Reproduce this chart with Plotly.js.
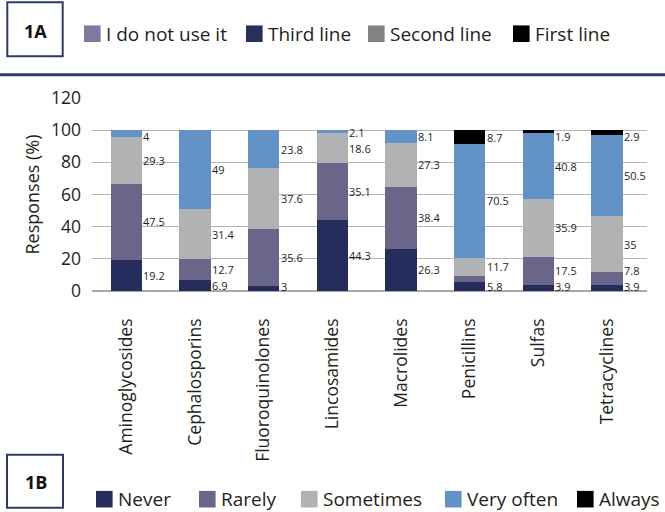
<!DOCTYPE html>
<html><head><meta charset="utf-8">
<script src="https://cdn.plot.ly/plotly-3.0.1.min.js"></script>
<style>html,body{margin:0;padding:0;background:#fff}#chart{width:665px;height:512px}</style>
</head><body><div id="chart"></div>
<script>
// ---- data ----
const categories = ['Aminoglycosides','Cephalosporins','Fluoroquinolones','Lincosamides','Macrolides','Penicillins','Sulfas','Tetracyclines'];
const seriesNames = ['Never','Rarely','Sometimes','Very often','Always'];
const never     = [19.2, 6.9, 3, 44.3, 26.3, 5.8, 3.9, 3.9];
const rarely    = [47.5, 12.7, 35.6, 35.1, 38.4, 3.3, 17.5, 7.8];
const sometimes = [29.3, 31.4, 37.6, 18.6, 27.3, 11.7, 35.9, 35];
const veryOften = [4, 49, 23.8, 2.1, 8.1, 70.5, 40.8, 50.5];
const always    = [0, 0, 0, 0, 0, 8.7, 1.9, 2.9];
const unlabeledPoints = [{series: 'Rarely', category: 'Penicillins'}];
const topLegendNames = ['I do not use it','Third line','Second line','First line'];
const yTickValues = [0, 20, 40, 60, 80, 100, 120];

// ---- style ----
const seriesColors = ['#252d5c','#6a6689','#b1b2b4','#6392c6','#000000'];
const topLegendColors = ['#7f7a9c','#262f5e','#818285','#000000'];
const FONT = '"Open Sans", "Noto Sans", sans-serif';
const TXT = '#231f20';
const NAVY = '#2e3a6b';

const allSeries = [never, rarely, sometimes, veryOften, always];

// plot area in pixels
const L = 92, R = 647, T = 97.7, B = 291, W = 665, H = 512;
const fx = px => (px - L) / (R - L);
const fy = py => (B - py) / (B - T);

const traces = allSeries.map((vals, k) => ({
  type: 'bar', name: seriesNames[k], x: categories, y: vals,
  marker: {color: seriesColors[k], line: {width: 0}},
  showlegend: false, hoverinfo: 'skip'
}));

// data labels placed right of each bar, at segment midpoints with collision avoidance
const annotations = [];
const GAP = 9.6, YMIN = 3.0, YMAX = 96;
categories.forEach((cat, i) => {
  let cum = 0;
  const labs = [];
  allSeries.forEach((vals, k) => {
    const v = vals[i];
    const mid = cum + v / 2;
    cum += v;
    const hidden = unlabeledPoints.some(p => p.series === seriesNames[k] && p.category === cat);
    if (v > 0 && !hidden) labs.push({v, p: Math.min(Math.max(mid, YMIN), YMAX)});
  });
  for (let j = 1; j < labs.length; j++) labs[j].p = Math.max(labs[j].p, labs[j-1].p + GAP);
  for (let j = labs.length - 2; j >= 0; j--) labs[j].p = Math.min(labs[j].p, labs[j+1].p - GAP);
  labs.forEach(l => annotations.push({
    xref: 'x', yref: 'y', x: cat, y: l.p, xshift: 16, xanchor: 'left', yanchor: 'middle',
    text: String(l.v), showarrow: false, borderpad: 0, font: {family: FONT, size: 11, color: TXT}
  }));
});

const shapes = [];
// header boxes and rule
function box(x0, y0, x1, y1) {
  shapes.push({type: 'rect', xref: 'paper', yref: 'paper', x0: fx(x0), x1: fx(x1), y0: fy(y1), y1: fy(y0),
    line: {color: NAVY, width: 2}, fillcolor: 'rgba(0,0,0,0)', layer: 'above'});
}
box(7.3, 1.7, 62.7, 56);
box(7, 455, 63, 508);
shapes.push({type: 'line', xref: 'paper', yref: 'paper', x0: fx(0), x1: fx(W), y0: fy(74.5), y1: fy(74.5),
  line: {color: NAVY, width: 3}});
annotations.push({xref: 'paper', yref: 'paper', x: fx(35), y: fy(30.5), xanchor: 'center', yanchor: 'middle',
  text: '<b>1A</b>', showarrow: false, font: {family: FONT, size: 18, color: '#111'}});
annotations.push({xref: 'paper', yref: 'paper', x: fx(35.5), y: fy(482), xanchor: 'center', yanchor: 'middle',
  text: '<b>1B</b>', showarrow: false, font: {family: FONT, size: 18, color: '#111'}});

// custom legends
const SQ = 16.6;
function legend(names, colors, xs, yc) {
  names.forEach((n, k) => {
    shapes.push({type: 'rect', xref: 'paper', yref: 'paper', x0: fx(xs[k]), x1: fx(xs[k] + SQ),
      y0: fy(yc + SQ / 2), y1: fy(yc - SQ / 2), fillcolor: colors[k], line: {width: 0}});
    annotations.push({xref: 'paper', yref: 'paper', x: fx(xs[k] + SQ + 3.5), y: fy(yc), xanchor: 'left', yanchor: 'middle',
      text: n, showarrow: false, font: {family: FONT, size: 19, color: TXT}});
  });
}
legend(topLegendNames, topLegendColors, [84, 246, 368, 513], 33.3);
legend(seriesNames, seriesColors, [96, 199, 301, 445, 577], 499.5);

const layout = {
  width: W, height: H,
  margin: {l: L, r: W - R, t: T, b: H - B, pad: 0},
  paper_bgcolor: '#fff', plot_bgcolor: '#fff',
  barmode: 'stack', bargap: 0.54,
  showlegend: false,
  font: {family: FONT, color: TXT},
  xaxis: {type: 'category', tickangle: -90, tickfont: {family: FONT, size: 17.5, color: TXT},
    ticks: '', showgrid: false, zeroline: false, showline: false, ticklabelstandoff: 23, automargin: false},
  yaxis: {range: [0, 120], tickvals: yTickValues, ticktext: yTickValues.map(String),
    tickfont: {family: FONT, size: 17.5, color: TXT}, ticks: '',
    gridcolor: '#b4b4b4', gridwidth: 1.3, zeroline: true, zerolinecolor: '#a8a8a8', zerolinewidth: 1.6,
    showline: false, automargin: false, ticklabelstandoff: 10,
    title: {text: 'Responses (%)', font: {family: FONT, size: 18, color: TXT}, standoff: 6}},
  shapes, annotations
};
Plotly.newPlot('chart', traces, layout, {staticPlot: true, displayModeBar: false});
</script>
</body></html>
